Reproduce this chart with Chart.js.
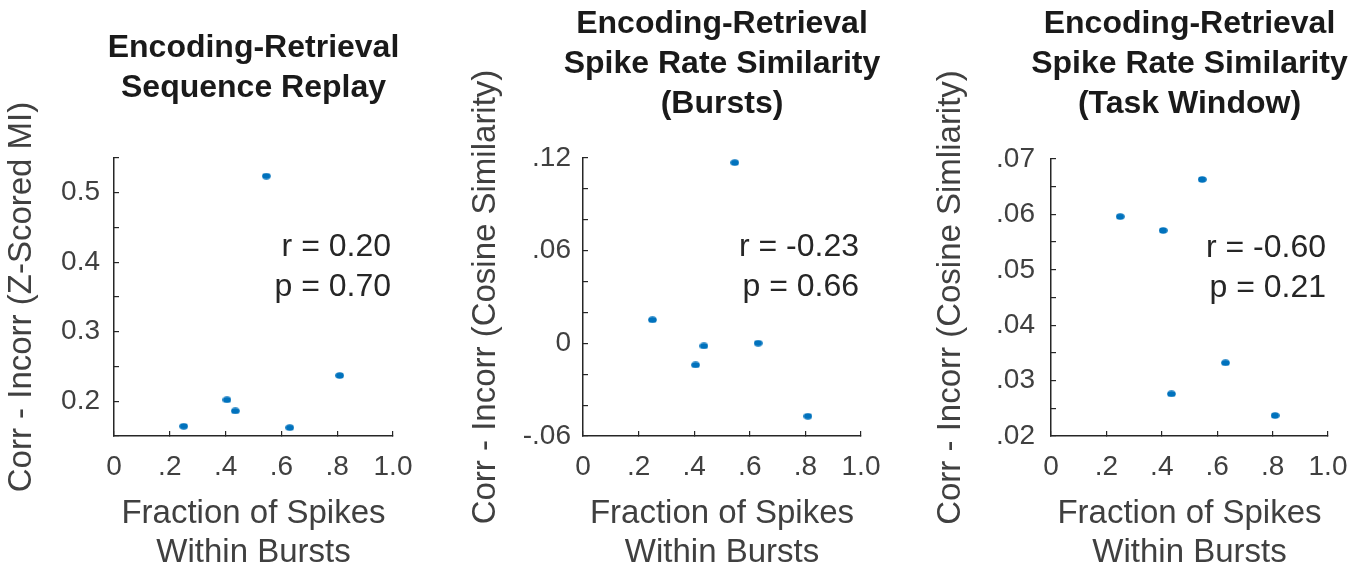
<!DOCTYPE html>
<html lang="en">
<head>
<meta charset="UTF-8">
<title>Burst fraction vs encoding-retrieval similarity</title>
<script src="https://cdn.jsdelivr.net/npm/chart.js@4.4.1/dist/chart.umd.min.js"></script>
<style>
    body { margin: 0; background: #fff; }
    canvas { position: absolute; top: 0; }
</style>
</head>
<body>

<canvas id="replay" width="457" height="571" style="left:0"></canvas>
<canvas id="bursts" width="457" height="571" style="left:457px"></canvas>
<canvas id="task" width="458" height="571" style="left:914px"></canvas>

<script>
// one value per subject, same x for all three panels
const burstFraction = [0.25, 0.405, 0.435, 0.546, 0.63, 0.809];
const replayDiff    = [0.164, 0.202, 0.186, 0.524, 0.162, 0.237];
const burstRateDiff = [0.0152, -0.0140, -0.0017, 0.117, 0.0001, -0.0472];
const taskRateDiff  = [0.0596, 0.0571, 0.0276, 0.0663, 0.0332, 0.0237];

const xTicks = [0, 0.2, 0.4, 0.6, 0.8, 1.0];
const xTickLabels = ['0', '.2', '.4', '.6', '.8', '1.0'];

const replayTicks = [0.15, 0.2, 0.25, 0.3, 0.35, 0.4, 0.45, 0.5, 0.55];
const replayTickLabels = ['', '0.2', '', '0.3', '', '0.4', '', '0.5', ''];
const burstTicks = [-0.06, -0.04, -0.02, 0, 0.02, 0.04, 0.06, 0.08, 0.10, 0.12];
const burstTickLabels = ['-.06', '', '', '0', '', '', '.06', '', '', '.12'];
const taskTicks = [0.02, 0.025, 0.03, 0.035, 0.04, 0.045, 0.05, 0.055, 0.06, 0.065, 0.07];
const taskTickLabels = ['.02', '', '.03', '', '.04', '', '.05', '', '.06', '', '.07'];

const replayStats = ['r = 0.20', 'p = 0.70'];
const burstStats = ['r = -0.23', 'p = 0.66'];
const taskStats = ['r = -0.60', 'p = 0.21'];

const FONT = "'Liberation Sans', Arial, Helvetica, sans-serif";
const AXIS = '#262626';
const LABEL = '#404040';

// matlab style dot, a bit wider than tall
const dot = document.createElement('canvas');
dot.width = 9;
dot.height = 7;
const dc = dot.getContext('2d');
dc.fillStyle = '#0072bd';
dc.beginPath();
dc.ellipse(4.5, 3.5, 4.3, 3.2, 0, 0, Math.PI * 2);
dc.fill();

// r / p text in the upper right of each axes
const statsText = {
    id: 'statsText',
    afterDatasetsDraw(chart, args, opts) {
        const {ctx, chartArea} = chart;
        ctx.save();
        ctx.font = '32px ' + FONT;
        ctx.fillStyle = AXIS;
        ctx.textAlign = 'right';
        ctx.textBaseline = 'middle';
        opts.lines.forEach((t, i) => {
            ctx.fillText(t, chartArea.right - 2, chartArea.top + 89 + i * 40);
        });
        ctx.restore();
    }
};

// title stays centred over the axes but may run wider than them
const wideTitle = {
    id: 'wideTitle',
    afterLayout(chart) {
        const t = chart.titleBlock;
        const mid = (t.left + t.right) / 2;
        t.left = mid - 220;
        t.right = mid + 220;
    }
};

function makePanel(id, p) {
    const grid = {
        display: true,
        drawOnChartArea: false,
        drawTicks: true,
        tickLength: -5,      // inward ticks
        color: AXIS,
        lineWidth: 1.2
    };
    const border = {display: true, color: AXIS, width: 1.5};

    new Chart(id, {
        type: 'scatter',
        data: {
            datasets: [{
                data: burstFraction.map((x, i) => ({x: x, y: p.values[i]})),
                pointStyle: dot,
                backgroundColor: '#0072bd',
                borderWidth: 0
            }]
        },
        options: {
            responsive: false,
            animation: false,
            layout: {padding: {left: 0, top: 0, right: p.padRight, bottom: 0}},
            plugins: {
                legend: {display: false},
                tooltip: {enabled: false},
                title: {
                    display: true,
                    text: p.title,
                    fullSize: false,
                    color: '#1a1a1a',
                    font: {family: FONT, size: 32, weight: 'bold', lineHeight: 40 / 32},
                    padding: p.titlePad
                },
                statsText: {lines: p.stats}
            },
            scales: {
                x: {
                    type: 'linear',
                    min: 0,
                    max: 1,
                    afterBuildTicks: s => { s.ticks = xTicks.map(v => ({value: v})); },
                    afterFit: s => { s.height = 135; },
                    grid: grid,
                    border: border,
                    ticks: {
                        autoSkip: false,
                        maxRotation: 0,
                        padding: 19,
                        color: LABEL,
                        font: {family: FONT, size: 28},
                        callback: (v, i) => xTickLabels[i]
                    },
                    title: {
                        display: true,
                        text: ['Fraction of Spikes', 'Within Bursts'],
                        color: LABEL,
                        font: {family: FONT, size: 33, lineHeight: 1.2},
                        padding: {top: 0, bottom: -2}
                    }
                },
                y: {
                    type: 'linear',
                    min: p.ticks[0],
                    max: p.ticks[p.ticks.length - 1],
                    afterBuildTicks: s => { s.ticks = p.ticks.map(v => ({value: v})); },
                    afterFit: s => { s.width = p.yWidth; },
                    grid: grid,
                    border: border,
                    ticks: {
                        autoSkip: false,
                        padding: p.tickGap + 5,
                        color: LABEL,
                        font: {family: FONT, size: 28},
                        callback: (v, i) => p.tickLabels[i]
                    },
                    title: {
                        display: true,
                        text: p.yTitle,
                        color: LABEL,
                        font: {family: FONT, size: 33, lineHeight: 1.15},
                        padding: {top: p.yTitlePad, bottom: 0}
                    }
                }
            }
        },
        plugins: [statsText, wideTitle]
    });
}

makePanel('replay', {
    values: replayDiff,
    ticks: replayTicks,
    tickLabels: replayTickLabels,
    stats: replayStats,
    title: ['Encoding-Retrieval', 'Sequence Replay'],
    yTitle: 'Corr - Incorr (Z-Scored MI)',
    titlePad: {top: 28, bottom: 50},
    yWidth: 114,
    yTitlePad: 3,
    tickGap: 14,
    padRight: 64
});

makePanel('bursts', {
    values: burstRateDiff,
    ticks: burstTicks,
    tickLabels: burstTickLabels,
    stats: burstStats,
    title: ['Encoding-Retrieval', 'Spike Rate Similarity', '(Bursts)'],
    yTitle: 'Corr - Incorr (Cosine Similarity)',
    titlePad: {top: 4, bottom: 34},
    yWidth: 126,
    yTitlePad: 10,
    tickGap: 12,
    padRight: 53
});

makePanel('task', {
    values: taskRateDiff,
    ticks: taskTicks,
    tickLabels: taskTickLabels,
    stats: taskStats,
    title: ['Encoding-Retrieval', 'Spike Rate Similarity', '(Task Window)'],
    yTitle: 'Corr - Incorr (Cosine Simliarity)',
    titlePad: {top: 4, bottom: 35},
    yWidth: 137,
    yTitlePad: 18,
    tickGap: 16,
    padRight: 44
});
</script>

</body>
</html>
